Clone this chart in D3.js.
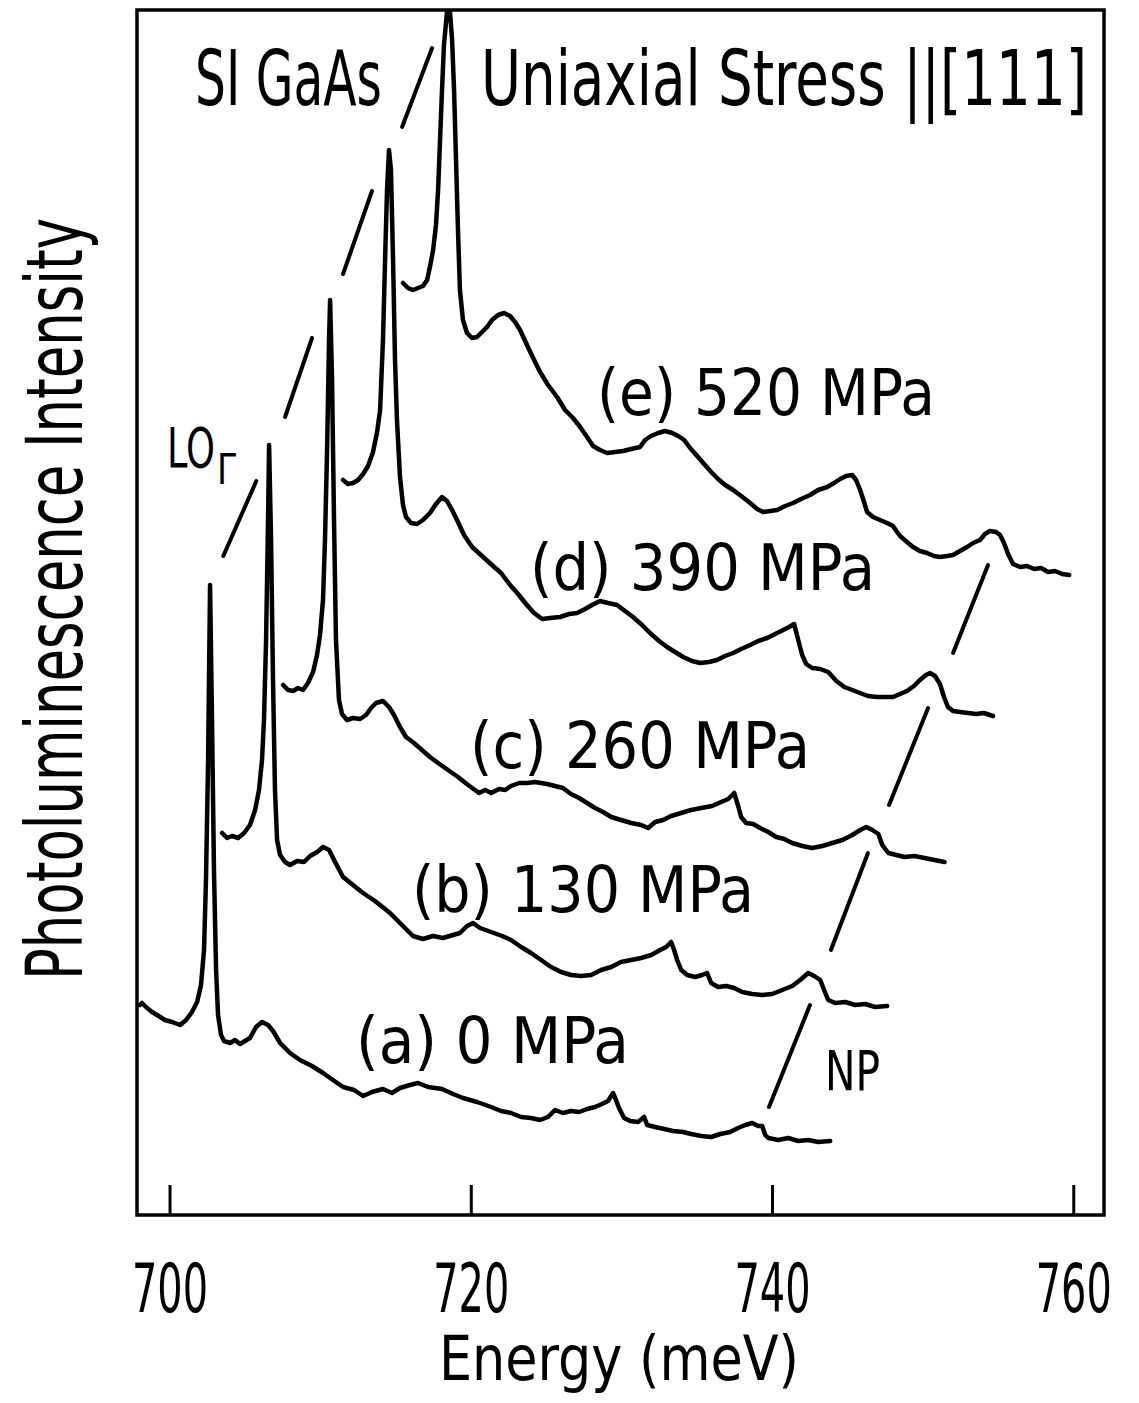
<!DOCTYPE html>
<html>
<head>
<meta charset="utf-8">
<script src="https://cdn.jsdelivr.net/npm/d3@7"></script>
<style>
  body { margin: 0; background: #fff; }
  text { font-family: 'Liberation Sans Narrow', 'DejaVu Sans Condensed', 'Liberation Sans', sans-serif; fill: #000; }
</style>
</head>
<body>
<div id="chart"></div>
<script>
// PL spectra, [energy (meV), intensity (arb. units, offset as plotted)]
var spectrumA = [[698.04,21.0],[698.17,21.2],[698.51,20.7],[698.84,20.3],[699.17,20.0],[699.70,19.5],[700.17,19.3],[700.70,19.0],[701.10,19.5],[701.49,20.3],[701.83,21.3],[702.09,23.0],[702.29,26.5],[702.42,33.5],[702.56,45.5],[702.69,63.0],[702.82,49.5],[702.95,34.5],[703.09,24.5],[703.22,20.0],[703.42,18.0],[703.62,17.4],[704.02,17.2],[704.35,17.5],[704.68,17.1],[705.01,17.4],[705.34,17.7],[705.74,18.8],[706.14,19.3],[706.54,19.0],[706.87,18.4],[707.34,17.2],[708.00,16.2],[708.66,15.5],[709.46,14.9],[710.19,14.2],[710.85,13.5],[711.52,12.8],[712.25,12.5],[712.85,11.9],[713.44,12.3],[714.17,12.6],[714.77,12.2],[715.30,12.7],[715.96,13.0],[716.50,13.2],[717.16,12.8],[718.09,12.6],[718.82,12.1],[719.49,11.7],[720.42,11.3],[721.35,10.8],[722.01,10.4],[722.67,10.2],[723.34,9.8],[724.00,9.7],[724.60,9.5],[725.13,9.8],[725.59,10.5],[726.12,10.2],[726.65,10.4],[727.19,10.3],[727.72,10.6],[728.25,10.8],[728.71,11.1],[729.11,11.4],[729.45,12.2],[729.64,11.5],[729.84,10.7],[730.18,9.7],[730.58,9.4],[731.11,9.3],[731.51,9.8],[731.71,9.0],[732.24,8.8],[732.84,8.6],[733.43,8.4],[734.10,8.3],[734.63,8.1],[735.30,7.9],[735.96,7.8],[736.56,8.1],[737.22,8.3],[737.75,8.7],[738.22,9.0],[738.68,9.2],[739.08,8.9],[739.35,8.9],[739.55,8.0],[739.75,7.7],[740.41,7.5],[741.08,7.7],[741.74,7.4],[742.40,7.5],[743.07,7.3],[743.86,7.4]];

var spectrumB = [[703.49,38.2],[703.82,37.7],[704.15,37.9],[704.55,37.7],[704.95,38.2],[705.34,39.0],[705.68,40.5],[705.94,42.5],[706.14,45.5],[706.27,49.5],[706.41,57.5],[706.54,69.5],[706.61,77.0],[706.74,67.5],[706.87,53.5],[707.00,42.5],[707.14,37.5],[707.34,36.0],[707.67,35.3],[708.00,35.0],[708.47,35.4],[708.93,35.3],[709.33,35.9],[709.80,36.3],[710.19,36.8],[710.59,36.5],[710.99,35.3],[711.52,33.8],[712.18,33.0],[712.85,32.2],[713.64,31.4],[714.64,30.2],[715.43,29.0],[716.16,27.9],[716.83,27.6],[717.49,27.9],[718.15,27.7],[718.82,28.0],[719.28,28.2],[719.75,28.9],[720.15,29.2],[720.61,28.7],[721.35,28.3],[722.08,27.9],[722.67,27.5],[723.34,26.8],[724.00,26.2],[724.67,25.5],[725.33,24.8],[726.00,24.3],[726.66,24.0],[727.32,23.9],[727.99,24.0],[728.65,24.5],[729.32,24.8],[729.98,25.3],[730.65,25.5],[731.31,25.7],[731.98,26.0],[732.57,26.5],[732.97,26.8],[733.30,27.3],[733.50,26.5],[733.70,25.5],[733.97,24.5],[734.37,24.0],[734.90,23.8],[735.36,24.0],[735.69,24.2],[735.96,23.2],[736.42,22.8],[736.96,22.9],[737.49,22.7],[738.02,22.3],[738.68,22.1],[739.35,22.0],[740.01,22.1],[740.68,22.5],[741.34,22.9],[741.87,23.5],[742.40,24.2],[742.80,23.9],[743.20,23.5],[743.46,22.5],[743.73,21.5],[744.19,21.2],[744.86,21.3],[745.52,21.0],[746.18,21.1],[746.85,20.8],[747.64,20.9]];

var spectrumC = [[707.54,53.0],[707.87,52.5],[708.20,52.4],[708.53,52.7],[708.86,52.5],[709.19,53.2],[709.53,54.3],[709.79,56.0],[709.99,58.0],[710.19,61.5],[710.32,67.5],[710.46,76.5],[710.59,87.5],[710.66,91.5],[710.79,83.5],[710.92,69.5],[711.05,57.5],[711.25,51.5],[711.45,50.1],[711.78,49.5],[712.18,49.7],[712.65,49.6],[713.05,50.0],[713.38,50.7],[713.71,51.2],[714.17,51.4],[714.57,50.8],[714.90,50.0],[715.30,48.8],[715.70,47.8],[716.23,47.2],[716.76,46.5],[717.29,45.8],[717.83,45.2],[718.49,44.5],[719.15,43.8],[719.82,43.0],[720.55,42.2],[720.95,42.5],[721.35,42.2],[721.88,42.6],[722.28,42.5],[722.67,42.9],[723.21,43.2],[723.74,43.2],[724.27,43.3],[725.06,43.1],[725.59,42.9],[726.12,42.7],[726.65,42.1],[727.19,41.7],[727.72,41.2],[728.25,40.7],[728.78,40.3],[729.32,39.8],[729.98,39.5],[730.65,39.2],[731.31,39.0],[731.78,38.7],[732.24,39.3],[732.77,39.5],[733.30,39.9],[733.97,40.2],[734.63,40.5],[735.30,40.7],[736.02,40.9],[736.62,41.3],[737.09,41.6],[737.49,42.2],[737.75,40.9],[737.95,39.8],[738.28,39.2],[738.75,39.1],[739.21,38.7],[739.75,38.3],[740.28,37.8],[740.81,37.6],[741.34,37.2],[742.01,36.9],[742.67,36.7],[743.34,36.9],[744.00,37.2],[744.67,37.5],[745.33,38.0],[745.86,38.5],[746.26,38.8],[746.66,38.5],[747.06,38.1],[747.32,37.0],[747.72,36.2],[748.25,36.0],[748.79,35.8],[749.45,35.9],[750.12,35.7],[750.78,35.5],[751.45,35.3]];

var spectrumD = [[711.52,73.5],[711.85,73.1],[712.18,73.2],[712.52,73.5],[712.85,74.1],[713.18,74.9],[713.51,76.3],[713.78,78.3],[713.98,80.5],[714.17,87.5],[714.31,95.5],[714.44,102.5],[714.57,106.5],[714.70,104.5],[714.84,95.5],[714.97,85.5],[715.10,79.5],[715.30,73.8],[715.50,71.0],[715.70,69.8],[716.03,69.2],[716.43,69.1],[716.83,69.5],[717.29,70.2],[717.69,71.1],[718.09,71.8],[718.42,71.4],[718.76,70.5],[719.15,69.3],[719.55,68.0],[720.09,66.8],[720.82,65.8],[721.48,64.9],[722.01,64.2],[722.61,63.0],[723.14,62.1],[723.67,61.1],[724.20,60.2],[724.74,59.6],[725.27,59.7],[725.93,59.8],[726.53,60.1],[727.06,60.2],[727.59,60.6],[728.05,61.0],[728.58,61.4],[729.11,61.2],[729.71,61.0],[730.24,60.4],[730.77,59.8],[731.37,59.0],[731.90,58.2],[732.50,57.4],[733.03,56.8],[733.56,56.3],[734.10,55.8],[734.69,55.4],[735.23,55.2],[735.82,55.3],[736.35,55.5],[736.88,55.9],[737.42,56.2],[737.95,56.6],[738.55,57.0],[739.08,57.4],[739.68,57.7],[740.21,58.1],[740.74,58.5],[741.14,58.8],[741.47,59.1],[741.74,57.5],[742.00,56.0],[742.27,55.1],[742.67,54.7],[743.20,54.6],[743.73,54.3],[744.27,53.4],[744.80,52.8],[745.33,52.5],[745.84,52.2],[746.37,51.9],[746.97,51.8],[747.50,51.8],[748.03,51.8],[748.50,52.1],[748.96,52.4],[749.42,52.9],[749.82,53.5],[750.22,54.0],[750.49,54.2],[750.82,53.9],[751.15,53.1],[751.42,51.8],[751.68,50.8],[752.01,50.4],[752.48,50.3],[753.01,50.2],[753.54,50.1],[754.07,50.2],[754.67,49.9]];

var spectrumE = [[715.50,93.2],[715.83,92.7],[716.16,92.5],[716.50,92.7],[716.83,92.9],[717.10,93.5],[717.30,94.9],[717.50,96.5],[717.69,99.0],[717.83,102.5],[717.96,107.5],[718.09,112.5],[718.22,117.0],[718.42,120.3],[718.62,120.3],[718.76,117.5],[718.89,112.5],[719.02,105.5],[719.15,98.5],[719.28,92.5],[719.48,89.5],[719.75,88.2],[720.08,87.7],[720.41,87.8],[720.75,88.3],[721.08,88.8],[721.41,89.5],[721.81,90.0],[722.21,90.2],[722.61,89.9],[722.94,89.3],[723.27,88.5],[723.67,87.2],[724.14,85.7],[724.60,84.3],[725.13,83.0],[725.73,81.8],[726.26,80.5],[726.79,79.7],[727.26,78.8],[727.72,77.8],[728.12,76.9],[728.58,76.5],[729.05,76.2],[729.58,76.3],[730.11,76.4],[730.65,76.6],[731.24,76.8],[731.57,77.5],[731.97,77.9],[732.44,78.2],[732.90,78.4],[733.37,78.2],[733.77,77.9],[734.17,77.5],[734.56,76.7],[735.03,75.9],[735.49,75.1],[735.96,74.3],[736.42,73.6],[736.89,73.0],[737.42,72.5],[737.95,71.9],[738.55,71.2],[739.01,70.6],[739.41,70.3],[739.88,70.4],[740.34,70.5],[740.87,70.9],[741.40,71.2],[741.93,71.6],[742.53,72.0],[743.06,72.5],[743.66,72.8],[744.12,73.2],[744.52,73.6],[744.92,73.9],[745.32,74.0],[745.58,73.5],[745.85,72.5],[746.11,71.3],[746.31,70.3],[746.71,69.8],[747.17,69.5],[747.64,69.2],[748.03,68.9],[748.30,68.3],[748.50,67.9],[748.96,67.3],[749.36,66.8],[749.82,66.4],[750.29,66.2],[750.75,65.9],[751.15,65.8],[751.62,65.9],[752.01,66.0],[752.48,66.4],[752.95,66.8],[753.35,67.2],[753.81,67.5],[754.14,68.1],[754.47,68.4],[754.87,68.3],[755.14,68.0],[755.40,67.2],[755.67,66.1],[756.00,65.1],[756.47,64.8],[756.93,64.9],[757.40,64.6],[757.86,64.7],[758.33,64.3],[758.79,64.4],[759.26,64.1],[759.73,64.0]];

var spectra = [spectrumA, spectrumB, spectrumC, spectrumD, spectrumE];
var letters = ["a", "b", "c", "d", "e"];
var stresses = [0, 130, 260, 390, 520];
var energyTicks = [700, 720, 740, 760];

// guide segments [E1, I1, E2, I2]
var loGuide = [[703.57,65.9,705.76,73.4],[707.67,79.8,709.46,87.7],[711.52,94.1,713.44,102.4],[715.44,108.8,717.43,116.7]];
var npGuide = [[739.80,10.8,742.52,21.0],[743.91,26.5,746.37,36.2],[747.77,41.0,750.36,50.7],[752.02,56.2,754.34,65.0]];

var width = 1139, height = 1403;
var plotLeft = 137, plotRight = 1104, plotTop = 10, plotBottom = 1215;

var svg = d3.select('#chart')
    .append('svg')
    .attr('width', width)
    .attr('height', height);

var x = d3.scaleLinear().domain([697.84, 762.04]).range([plotLeft, plotRight]);
var y = d3.scaleLinear().domain([0, 120.5]).range([plotBottom, plotTop]);

var line = d3.line()
    .x(function (d) { return x(d[0]); })
    .y(function (d) { return y(d[1]); });

// spectra
svg.append('g')
    .selectAll('path')
    .data(spectra)
    .enter()
    .append('path')
    .attr('d', line)
    .attr('fill', 'none')
    .attr('stroke', '#000')
    .attr('stroke-width', 4.5)
    .attr('stroke-linejoin', 'round')
    .attr('stroke-linecap', 'round');

// LO and NP guide lines
svg.append('g')
    .selectAll('line')
    .data(loGuide.concat(npGuide))
    .enter()
    .append('line')
    .attr('x1', function (d) { return x(d[0]); })
    .attr('y1', function (d) { return y(d[1]); })
    .attr('x2', function (d) { return x(d[2]); })
    .attr('y2', function (d) { return y(d[3]); })
    .attr('stroke', '#000')
    .attr('stroke-width', 4)
    .attr('stroke-linecap', 'round');

// x axis, ticks pointing inward
var xAxis = svg.append('g')
    .attr('transform', 'translate(0,' + plotBottom + ')')
    .call(d3.axisBottom(x).tickValues(energyTicks).tickSizeInner(-30).tickSizeOuter(0).tickFormat(d3.format('d')));
xAxis.select('.domain').remove();
xAxis.selectAll('.tick line').attr('stroke', '#000').attr('stroke-width', 3);
xAxis.selectAll('.tick text')
    .attr('y', 97)
    .attr('dy', 0)
    .attr('font-size', 68)
    .attr('textLength', 76)
    .attr('lengthAdjust', 'spacingAndGlyphs')
    .attr('fill', '#000');

// frame
svg.append('rect')
    .attr('x', plotLeft)
    .attr('y', plotTop)
    .attr('width', plotRight - plotLeft)
    .attr('height', plotBottom - plotTop)
    .attr('fill', 'none')
    .attr('stroke', '#000')
    .attr('stroke-width', 3.5);

function label(txt, px, py, size, len) {
    return svg.append('text')
        .attr('x', px)
        .attr('y', py)
        .attr('font-size', size)
        .attr('textLength', len)
        .attr('lengthAdjust', 'spacingAndGlyphs')
        .text(txt);
}

// titles
label('SI GaAs', 195, 105, 76, 187);
label('Uniaxial Stress ||[111]', 481, 105, 76, 606);
label('Energy (meV)', 439, 1380, 62, 360);

svg.append('text')
    .attr('transform', 'translate(82,599) rotate(-90)')
    .attr('text-anchor', 'middle')
    .attr('font-size', 78)
    .attr('textLength', 762)
    .attr('lengthAdjust', 'spacingAndGlyphs')
    .text('Photoluminescence Intensity');

// curve labels
var labelPos = [[356, 1063, 273], [412, 912, 342], [470, 768, 340], [530, 590, 345], [597, 415, 338]];
letters.forEach(function (l, i) {
    var p = labelPos[i];
    label('(' + l + ') ' + stresses[i] + ' MPa', p[0], p[1], 64, p[2]);
});

label('LO', 167, 467, 55, 48);
label('\u0393', 217, 484, 42, 19);
label('NP', 825, 1090, 55, 55);
</script>
</body>
</html>
